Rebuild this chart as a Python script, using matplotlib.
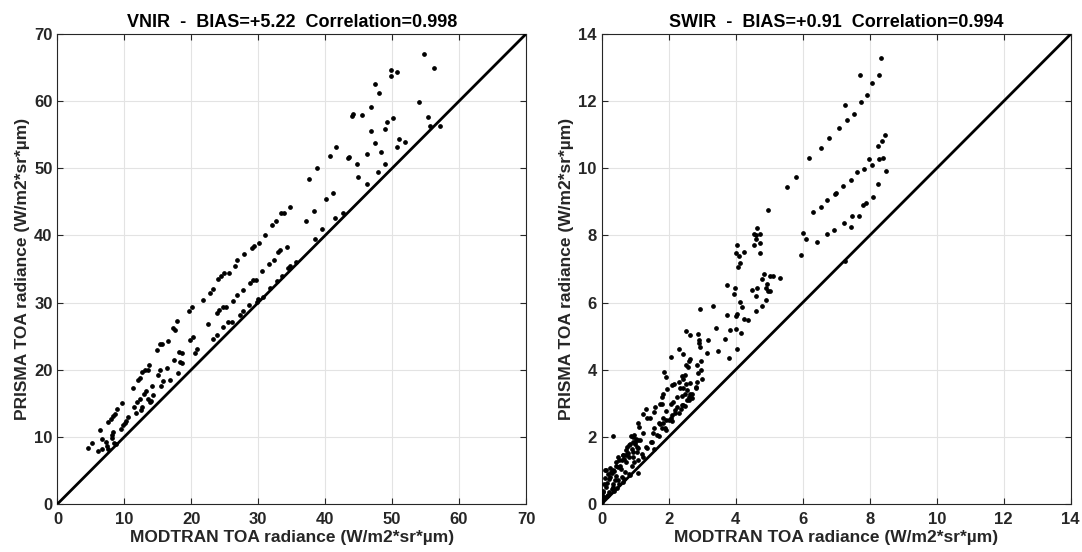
import numpy as np
import matplotlib.pyplot as plt

plt.rcParams['font.family'] = ['Liberation Sans', 'DejaVu Sans']
plt.rcParams['font.weight'] = 'bold'

# VNIR scatter: MODTRAN (x) vs PRISMA (y) TOA radiance
vnir_modtran = [
    4.61, 5.11, 6.10, 6.35, 6.6, 6.6, 7.25, 7.45, 7.6, 7.6, 7.95, 8.1, 8.2, 8.35, 8.35, 8.5,
    8.6, 8.75, 8.95, 9.6, 9.45, 9.74, 10.1, 10.3, 10.6, 11.33, 11.43, 11.7, 11.9, 12.1, 12.3,
    12.3, 12.5, 12.7, 12.7, 12.9, 13.1, 13.3, 13.5, 13.6, 13.7, 13.8, 14.0, 14.2, 14.3, 14.8,
    15.0, 15.3, 15.3, 15.5, 15.6, 15.8, 16.3, 16.5, 16.8, 17.3, 17.4, 17.6, 17.8, 18.0, 18.1,
    18.3, 18.6, 18.6, 19.7, 19.8, 20.1, 20.3, 20.5, 20.8,
    21.8, 22.8, 23.2, 24.0, 24.4, 24.9, 25.6, 26.5, 26.9, 27.8, 29.0, 29.4, 30.1, 31.0, 32.0,
    32.7, 33.4, 33.8, 34.8,
    22.5, 23.8, 24.1, 24.7, 25.2, 26.2, 26.8, 27.7, 28.7, 29.2, 29.6, 30.6, 31.6, 32.3, 33.0,
    33.3, 34.3,
    23.3, 23.9, 24.7, 25.5, 26.1, 27.2, 27.7, 28.6, 29.8, 30.0, 30.7, 31.7, 32.8, 33.5, 34.4,
    34.7, 35.7,
    37.1, 37.6, 38.4, 38.5, 38.8, 39.6, 40.1,
    54.7, 56.2, 49.9, 49.8, 50.8, 47.5, 48.1, 54.0, 46.9, 44.1, 44.0, 45.5, 55.3, 55.7, 57.1,
    49.2, 46.8, 49.0, 50.2, 51.0, 52.0, 50.7, 47.5, 41.6, 40.7, 43.4, 43.5, 46.2, 48.3, 44.7,
    49.0, 44.9, 47.9, 46.3, 41.1, 42.6, 41.4,
]
vnir_prisma = [
    8.37, 9.11, 7.92, 11.0, 9.74, 8.25, 9.3, 8.6, 8.25, 12.2, 12.7, 10.3, 9.8, 10.7, 13.1, 9.1,
    13.4, 9.0, 14.1, 15.1, 11.1, 11.7, 12.1, 12.3, 13.0, 17.2, 14.5, 13.5, 15.2, 18.4, 18.8,
    15.7, 14.0, 19.7, 14.4, 16.4, 20.0, 16.9, 15.7, 20.0, 20.7, 15.2, 15.4, 17.5, 16.2, 22.9,
    19.2, 23.9, 20.0, 17.5, 23.8, 18.3, 20.3, 24.3, 18.5, 26.2, 21.5, 25.9, 27.2, 19.5, 22.6,
    21.2, 22.5, 21.0, 28.7, 24.4, 29.4, 24.8, 22.5, 23.1,
    30.4, 31.4, 32.0, 33.5, 34.0, 34.4, 34.4, 35.5, 36.4, 37.2, 38.1, 38.4, 38.8, 40.1, 41.6,
    42.1, 43.3, 43.4, 44.3,
    26.8, 28.4, 28.9, 29.4, 29.4, 30.2, 31.2, 31.9, 32.9, 33.3, 33.4, 34.7, 35.8, 36.3, 37.6,
    37.8, 38.3,
    24.6, 25.1, 26.3, 27.1, 27.1, 28.1, 28.8, 29.7, 30.1, 30.6, 30.9, 32.1, 33.2, 34.0, 35.2,
    35.4, 36.0,
    42.1, 48.4, 43.6, 39.4, 50.0, 40.9, 45.4,
    67.0, 65.0, 64.6, 63.7, 64.3, 62.5, 61.2, 59.9, 59.1, 58.1, 57.8, 58.0, 57.6, 56.3, 56.3,
    56.9, 55.6, 55.8, 57.5, 54.4, 53.9, 53.2, 53.8, 53.1, 51.9, 51.6, 51.7, 52.2, 52.4, 50.7,
    50.6, 48.7, 49.4, 47.7, 46.3, 43.4, 42.6,
]

# SWIR scatter
swir_modtran = [
    8.33, 7.71, 8.29, 8.06, 7.91, 7.73, 7.26, 7.53, 7.31, 7.08, 6.79, 6.56, 6.18, 5.79, 5.52, 4.97,
    8.45, 8.38, 8.24, 8.39, 8.29, 7.99, 8.06, 7.84, 7.63, 8.49, 7.43, 7.21, 6.99, 6.96, 6.71,
    6.56, 6.30,
    8.25, 8.09, 7.89, 7.81, 7.69, 7.47, 7.43, 7.23, 6.93, 6.73, 6.44, 6.10, 6.00, 5.96, 7.27,
    4.65, 4.54, 4.60, 4.72, 4.62, 4.71, 4.54, 4.72, 4.05, 4.00, 4.11, 4.24, 4.06, 4.13, 3.73,
    3.99, 3.95, 4.48, 4.65, 4.62, 4.84, 5.02, 5.10, 5.32, 4.77, 4.92, 4.90, 4.97, 5.02, 4.89,
    4.79, 4.62, 4.13, 4.18, 4.03, 4.00, 4.26, 4.38, 3.74, 3.31, 2.93,
    3.41, 3.83, 4.01, 4.15, 2.52, 2.65, 2.86, 3.68, 2.91, 2.90, 2.93, 2.32, 3.18, 3.48, 4.05,
    2.44, 2.65, 3.15, 3.81, 2.06, 2.61, 2.95, 2.52, 2.83, 2.59, 2.95, 1.86, 1.92, 2.49, 2.44,
    2.39, 2.88, 2.98, 2.85, 2.09, 2.16, 2.32, 2.52, 2.65, 2.81, 2.34, 2.44, 2.56, 1.96, 1.84,
    1.79, 2.49, 2.64, 2.69, 2.24, 2.39, 1.74, 2.14, 2.06, 2.54, 2.62, 2.44, 2.24, 2.19, 2.36,
    1.59, 1.56, 1.79, 1.92, 1.84, 1.92, 2.09, 2.06, 1.84, 1.72, 1.74, 1.56, 1.54, 1.92, 1.44,
    1.32, 1.24, 1.34, 1.09, 1.12, 0.94, 0.33, 0.99, 1.04, 0.84, 0.75, 0.89, 1.04, 0.94, 0.79,
    0.65, 0.60, 0.50, 0.43, 0.55, 0.25, 0.13, 0.30, 0.10, 0.25, 0.15, 0.40, 0.05, 0.03, 0.0,
    0.2, 0.45, 0.65, 0.84, 1.09, 1.09, 1.24, 1.32, 1.14, 0.73, 0.35, 1.24,
    1.57, 1.47, 0.88, 0.97, 1.02, 0.92, 0.82, 0.72, 0.63, 0.53, 0.43, 0.28, 0.18, 0.11, 0.23,
    0.08, 0.03, 0.13, 0.33, 0.43, 0.58, 0.72, 0.82, 0.94, 1.07, 1.07, 1.0, 0.77, 0.68, 0.48,
    0.38, 0.23, 0.38, 0.53, 0.68, 0.82, 0.0, 0.01, 0.08,
    2.7, 2.5, 2.3, 2.1, 1.9, 1.7, 2.8, 2.6, 2.4, 2.2, 2.0, 1.8, 1.65, 1.5, 1.35, 1.2,
    0.95, 0.9, 0.7, 0.6, 0.5, 0.35, 0.3, 0.15,
]
swir_prisma = [
    13.28, 12.78, 12.77, 12.53, 12.18, 11.98, 11.89, 11.63, 11.44, 11.21, 10.91, 10.60, 10.32,
    9.75, 9.45, 8.76,
    10.98, 10.80, 10.67, 10.31, 10.28, 10.28, 10.11, 9.99, 9.90, 9.91, 9.66, 9.46, 9.26, 9.22,
    9.06, 8.86, 8.69,
    9.53, 9.14, 8.96, 8.92, 8.59, 8.57, 8.24, 8.37, 8.16, 8.04, 7.81, 7.89, 8.08, 7.43, 7.24,
    8.22, 8.05, 8.00, 8.05, 7.90, 7.77, 7.70, 7.47, 7.72, 7.47, 7.40, 7.52, 7.05, 7.17, 6.53,
    6.44, 6.26, 6.38, 6.43, 6.21, 6.85, 6.80, 6.80, 6.72, 6.70, 6.56, 6.43, 6.34, 6.33, 6.08,
    5.89, 5.74, 6.01, 5.86, 5.66, 5.59, 5.51, 5.48, 5.62, 5.89, 5.81,
    5.25, 5.19, 5.22, 5.09, 5.14, 5.02, 5.05, 4.92, 4.88, 4.80, 4.68, 4.63, 4.88, 4.56, 4.61,
    4.46, 4.33, 4.50, 4.35, 4.38, 4.26, 4.26, 4.13, 4.13, 4.08, 4.00, 3.93, 3.78, 3.83, 3.73,
    3.80, 3.90, 3.73, 3.63, 3.54, 3.56, 3.63, 3.58, 3.60, 3.48, 3.46, 3.46, 3.40, 3.43, 3.27,
    3.19, 3.27, 3.29, 3.27, 3.19, 3.21, 2.98, 3.04, 2.97, 3.09, 3.11, 2.94, 2.89, 2.81, 2.84,
    2.89, 2.74, 2.97, 2.77, 2.55, 2.50, 2.64, 2.55, 2.42, 2.40, 2.38, 2.25, 2.10, 2.20, 2.55,
    2.84, 2.69, 2.57, 2.40, 2.28, 2.00, 2.02, 1.85, 1.70, 1.80, 1.70, 1.65, 1.55, 1.40, 1.52,
    1.45, 1.31, 1.41, 1.26, 1.13, 1.06, 1.01, 0.91, 0.76, 0.81, 0.61, 0.71, 0.36, 0.17, 0.07,
    0.27, 0.47, 0.66, 0.86, 0.93, 1.31, 1.41, 1.70, 1.90, 1.45, 1.01, 2.10,
    1.65, 1.85, 2.02, 2.05, 1.95, 1.85, 1.75, 1.60, 1.45, 1.30, 1.12, 0.95, 0.90, 1.0, 0.75,
    0.60, 0.40, 0.50, 0.60, 0.84, 1.04, 1.24, 1.40, 1.55, 1.68, 1.90, 1.80, 1.50, 1.35, 1.10,
    0.99, 0.35, 0.40, 0.60, 0.74, 0.89, 0.26, 0.11, 0.21,
    3.15, 2.92, 2.7, 2.48, 2.26, 2.02, 3.45, 3.2, 2.95, 2.72, 2.5, 2.25, 2.05, 1.85, 1.68, 1.5,
    1.25, 1.12, 0.95, 0.8, 0.7, 0.5, 0.45, 0.25,
]

panels = [
    ('VNIR  -  BIAS=+5.22  Correlation=0.998', vnir_modtran, vnir_prisma, 70, 10),
    ('SWIR  -  BIAS=+0.91  Correlation=0.994', swir_modtran, swir_prisma, 14, 2),
]

fig = plt.figure(figsize=(10.82, 5.52), dpi=100)
boxes = [[0.0531, 0.087, 0.433, 0.8514], [0.5561, 0.087, 0.4335, 0.8514]]

for box, (title, xs, ys, lim, step) in zip(boxes, panels):
    ax = fig.add_axes(box)
    ax.plot(xs, ys, 'o', color='black', markersize=2.4, zorder=3)
    ax.plot([0, lim], [0, lim], color='black', linewidth=2, zorder=4)
    ax.set_xlim(0, lim)
    ax.set_ylim(0, lim)
    ticks = np.arange(0, lim + step, step)
    ax.set_xticks(ticks)
    ax.set_yticks(ticks)
    ax.grid(True, color='#e3e3e3', linewidth=0.8)
    ax.set_axisbelow(True)
    ax.tick_params(direction='in', top=True, right=True, labelsize=12,
                   colors='#262626', length=4, width=0.8)
    ax.tick_params(axis='x', pad=6)
    for lbl in ax.get_xticklabels() + ax.get_yticklabels():
        lbl.set_fontweight('bold')
    for sp in ax.spines.values():
        sp.set_color('#262626')
        sp.set_linewidth(0.8)
    ax.set_title(title, fontsize=13, fontweight='bold', pad=5)
    ax.set_xlabel('MODTRAN TOA radiance (W/m2*sr*µm)', fontsize=12.5,
                  fontweight='bold', color='#262626', labelpad=2)
    ax.set_ylabel('PRISMA TOA radiance (W/m2*sr*µm)', fontsize=12.5,
                  fontweight='bold', color='#262626', labelpad=3)

fig.savefig('out.png', dpi=100)
